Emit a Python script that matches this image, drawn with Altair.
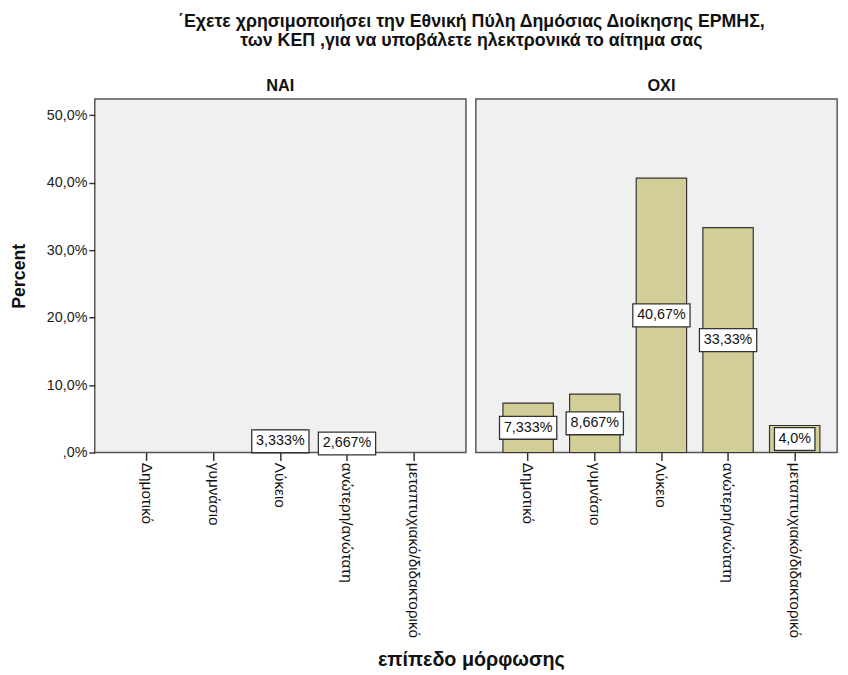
import altair as alt
import pandas as pd

categories = ["Δημοτικό", "γυμνάσιο", "Λύκειο", "ανώτερη/ανώτατη", "μεταπτυχιακό/διδακτορικό"]
nai_values = [None, None, 3.333, 2.667, None]
oxi_values = [7.333, 8.667, 40.67, 33.33, 4.0]
nai_labels = ["", "", "3,333%", "2,667%", ""]
oxi_labels = ["7,333%", "8,667%", "40,67%", "33,33%", "4,0%"]
y_ticks = [0, 10, 20, 30, 40, 50]
title_lines = ["΄Εχετε χρησιμοποιήσει την Εθνική Πύλη Δημόσιας Διοίκησης  ΕΡΜΗΣ,",
               "των ΚΕΠ ,για να υποβάλετε ηλεκτρονικά το αίτημα σας"]

FONT = "Liberation Sans"
BAR_FILL = "#d3ce97"
EDGE = "#333333"
LABEL_SIZE = 14.5
XLABEL_SIZE = 15.5
PANEL_H = 358


def make_df(values, labels):
    rows = []
    for c, v, l in zip(categories, values, labels):
        if v is not None:
            rows.append({"cat": c, "value": v, "label": l})
    return pd.DataFrame(rows)


def panel(values, labels, name, show_y, width, x_range=None, head_dx=0):
    df = make_df(values, labels)
    scale_kw = dict(domain=categories, paddingInner=0.244, paddingOuter=0.407)
    if x_range is not None:
        scale_kw["range"] = x_range
    xscale = alt.Scale(**scale_kw)
    xaxis_kw = dict(labelAngle=90, labelAlign="left", labelBaseline="middle",
                    labelFontSize=XLABEL_SIZE, labelFont=FONT, labelColor="#111",
                    tickSize=8, tickColor=EDGE, tickWidth=1.5, domain=False,
                    labelPadding=2, labelLimit=400)
    if show_y:
        xaxis = alt.Axis(title="επίπεδο μόρφωσης", titleX=381, titleY=216,
                         titleAlign="center", titleBaseline="alphabetic",
                         titleFontSize=20, titleFont=FONT, titleFontWeight="bold",
                         titleColor="#111", **xaxis_kw)
        yaxis = alt.Axis(values=y_ticks, title="Percent",
                         labelExpr="datum.value == 0 ? ',0%' : replace(format(datum.value, '.1f'), '.', ',') + '%'",
                         labelFontSize=LABEL_SIZE, labelFont=FONT, labelColor="#222",
                         labelPadding=2,
                         tickSize=6, tickColor=EDGE, tickWidth=1.5, domain=False,
                         titleFontSize=18, titleFont=FONT, titleFontWeight="bold",
                         titleColor="#111", titleX=-76, titleY=PANEL_H / 2,
                         titleAlign="center", titleBaseline="middle", titleAngle=270)
    else:
        xaxis = alt.Axis(title=None, **xaxis_kw)
        yaxis = None
    yscale = alt.Scale(domain=[0, 52.4], nice=False, zero=True)
    x = alt.X("cat:N", sort=categories, scale=xscale, axis=xaxis)

    base = alt.Chart(df).transform_calculate(
        mid="datum.value / 2",
        lo="datum.value / 2 - 1.7",
        hi="datum.value / 2 + 1.7",
        bw="length(datum.label) * 8.5 + 7",
    )
    bars = base.mark_bar(fill=BAR_FILL, stroke=EDGE, strokeWidth=1.2).encode(
        x=x, y=alt.Y("value:Q", scale=yscale, axis=yaxis, title="Percent"))
    boxes = base.mark_bar(fill="white", stroke=EDGE, strokeWidth=1.3).encode(
        x=x, y=alt.Y("lo:Q", scale=yscale, axis=yaxis, title="Percent"),
        y2="hi:Q", size=alt.Size("bw:Q", scale=None, legend=None))
    texts = base.mark_text(font=FONT, fontSize=LABEL_SIZE, color="#111").encode(
        x=x, y=alt.Y("mid:Q", scale=yscale, axis=yaxis, title="Percent"),
        text="label:N")
    return alt.layer(bars, boxes, texts).properties(
        width=width, height=PANEL_H,
        title=alt.TitleParams(name, fontSize=16.5, font=FONT, fontWeight="bold",
                              color="#111", offset=5, dx=head_dx))


left = panel(nai_values, nai_labels, "NAI", True, 376)
right = panel(oxi_values, oxi_labels, "OXI", False, 366, x_range=[0, 376], head_dx=5)

chart = alt.hconcat(left, right, spacing=10, bounds="flush").properties(
    title=alt.TitleParams(title_lines, fontSize=18, font=FONT, fontWeight="bold",
                          color="#111", anchor="middle", dx=43, offset=28,
                          lineHeight=19),
    padding={"left": 10, "top": 8, "right": 0, "bottom": 0},
).configure(
    background="white"
).configure_view(
    fill="#f0f0f0", stroke="#555555", strokeWidth=1.5
).configure_axis(grid=False)

chart.save("out.html", embed_options={"renderer": "svg", "actions": False})
